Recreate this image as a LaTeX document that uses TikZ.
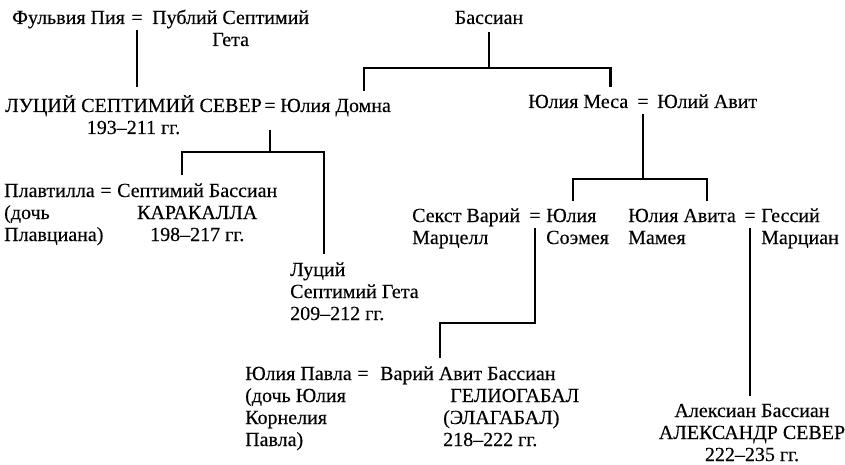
\documentclass[tikz,border=0pt]{standalone}
\usepackage{fontspec}
\setmainfont{Liberation Serif}[FakeBold=0.3]
\begin{document}
\begin{tikzpicture}[x=1pt,y=-1pt,
	person/.style={inner sep=0,outer ysep=8pt,font=\fontsize{20}{22}\selectfont},
	eqsign/.style={inner sep=0,outer ysep=6pt,anchor=base,font=\fontsize{20}{22}\selectfont},
	link/.style={line width=2.6pt}]
	\useasboundingbox (0,0) rectangle (845,465);
	\node[person,anchor=base west] (fulvia) at (12,24) {Фульвия Пия};
	\node[eqsign] (eqA) at (137,24) {=};
	\node[person,anchor=base west,align=center] (publius) at (152,46) {Публий Септимий\\Гета};
	\node[person,anchor=base] (bassian) at (489,24) {Бассиан};
	\node[person,anchor=base west,align=center] (sev) at (5,134) {ЛУЦИЙ СЕПТИМИЙ СЕВЕР\\193–211 гг.};
	\node[eqsign] (eqB) at (270,112) {=};
	\node[person,anchor=base west] (domna) at (280,112) {Юлия Домна};
	\node[person,anchor=base west] (mesa) at (528,108) {Юлия Меса};
	\node[eqsign] (eqC) at (643,108) {=};
	\node[person,anchor=base west] (avitus) at (657,108) {Юлий Авит};
	\node[person,anchor=base west,align=left] (plaut) at (4,241) {Плавтилла\\(дочь\\Плавциана)};
	\node[eqsign] (eqD) at (106,197) {=};
	\node[person,anchor=base west,align=center] (carac) at (117,241) {Септимий Бассиан\\КАРАКАЛЛА\\198–217 гг.};
	\node[person,anchor=base west,align=left] (geta) at (290,320) {Луций\\Септимий Гета\\209–212 гг.};
	\node[person,anchor=base west,align=left] (sextus) at (412,244) {Секст Варий\\Марцелл};
	\node[eqsign] (eqE) at (535,222) {=};
	\node[person,anchor=base west,align=left] (soem) at (546,244) {Юлия\\Соэмея};
	\node[person,anchor=base west,align=left] (avita) at (628,244) {Юлия Авита\\Мамея};
	\node[eqsign] (eqF) at (750,222) {=};
	\node[person,anchor=base west,align=left] (gess) at (761,244) {Гессий\\Марциан};
	\node[person,anchor=base west,align=left] (paula) at (245,446) {Юлия Павла\\(дочь Юлия\\Корнелия\\Павла)};
	\node[eqsign] (eqG) at (363,380) {=};
	\node[person,anchor=base west,align=left] (elag) at (380,446) {Варий Авит Бассиан\\\hspace*{70pt}ГЕЛИОГАБАЛ\\\hspace*{63pt}(ЭЛАГАБАЛ)\\\hspace*{63pt}218–222 гг.};
	\node[person,anchor=base,align=center] (alex) at (752,461) {Алексиан Бассиан\\АЛЕКСАНДР СЕВЕР\\222–235 гг.};
	\coordinate (jB) at (489,68);
	\coordinate (jS) at (270,152);
	\coordinate (jM) at (643,179);
	\coordinate (jE) at (535,323);
	\draw[link] (eqA.south) -- (eqA.south |- sev.north);
	\draw[link] (bassian.south) -- (jB);
	\draw[link] ([xshift=-27pt]domna.north east) |- (jB) -| ([xshift=-18pt]mesa.north east);
	\draw[link] ([yshift=-12pt]eqB.south) -- (jS);
	\draw[link] ([xshift=65pt]carac.north west) |- (jS) -| ([xshift=34pt]geta.north west);
	\draw[link] (eqC.south) -- (jM);
	\draw[link] ([xshift=27pt]soem.north west) |- (jM) -| ([xshift=79pt]avita.north west);
	\draw[link] (eqE.south) -- (jE) -| ([xshift=60pt]elag.north west);
	\draw[link] (eqF.south) -- (eqF.south |- alex.north);
\end{tikzpicture}
\end{document}
